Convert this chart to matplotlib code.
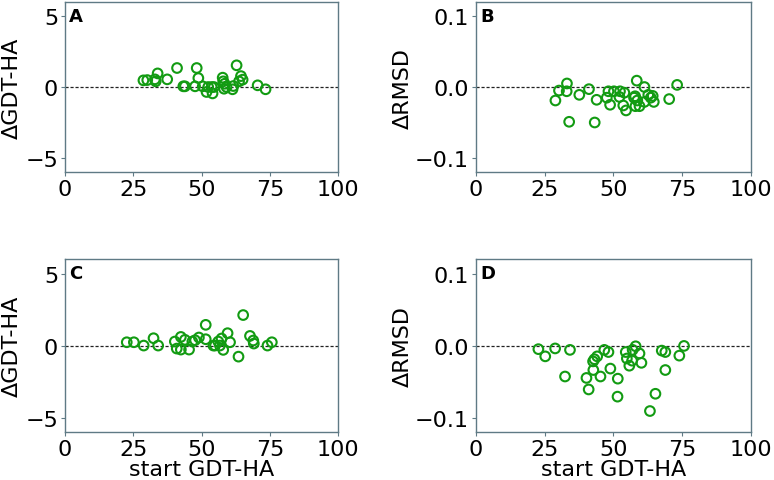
import numpy as np
import matplotlib
matplotlib.use("Agg")
import matplotlib.pyplot as plt

# panel A: start GDT-HA vs delta GDT-HA
a_x = [28.7, 30.1, 32.9, 33.2, 33.9, 37.4, 41.0, 43.3, 43.9, 47.6, 48.2, 48.8,
       50.4, 51.8, 52.4, 53.7, 54.0, 54.5, 57.7, 57.9, 58.2, 58.4, 59.1, 61.3,
       61.6, 62.8, 63.7, 64.4, 65.0, 70.5, 73.4]
a_y = [0.47, 0.49, 0.54, 0.40, 0.96, 0.54, 1.34, 0.05, 0.05, 0.05, 1.34, 0.63,
       0.05, -0.35, 0.0, 0.0, -0.45, 0.0, 0.66, 0.40, -0.12, 0.23, 0.0, -0.16,
       0.07, 1.53, 0.40, 0.77, 0.52, 0.12, -0.16]

# panel B: start GDT-HA vs delta RMSD
b_x = [28.9, 30.2, 33.1, 33.0, 33.9, 37.6, 41.1, 43.2, 43.9, 47.6, 48.2, 48.8,
       50.2, 52.4, 52.2, 54.0, 53.6, 54.6, 57.5, 57.9, 58.0, 58.5, 58.7, 59.5,
       61.3, 61.3, 62.7, 63.6, 64.3, 64.7, 70.3, 73.2]
b_y = [-0.019, -0.005, 0.005, -0.006, -0.049, -0.011, -0.003, -0.050, -0.018,
       -0.015, -0.006, -0.025, -0.006, -0.006, -0.014, -0.008, -0.026, -0.033,
       -0.015, -0.013, -0.027, 0.009, -0.019, -0.027, 0.0, -0.021, -0.011,
       -0.015, -0.0125, -0.021, -0.017, 0.003]

# panel C
c_x = [22.6, 25.2, 28.8, 32.4, 34.1, 40.2, 40.9, 42.4, 42.4, 43.9, 45.4, 46.6,
       47.6, 49.0, 51.5, 51.5, 54.3, 54.9, 56.1, 56.7, 57.3, 57.9, 59.5, 60.4,
       63.5, 65.2, 67.7, 68.9, 69.1, 74.1, 75.7]
c_y = [0.23, 0.23, 0.0, 0.51, 0.0, 0.28, -0.21, 0.60, -0.28, 0.40, -0.28, 0.28,
       0.37, 0.56, 1.44, 0.44, 0.0, 0.0, 0.28, 0.0, 0.49, -0.30, 0.86, 0.23,
       -0.77, 2.12, 0.67, 0.35, 0.14, 0.0, 0.23]

# panel D
d_x = [22.7, 25.2, 28.8, 32.4, 34.2, 40.2, 41.0, 42.6, 42.7, 43.1, 44.1, 45.3,
       46.7, 48.2, 48.9, 51.5, 51.6, 54.5, 54.9, 55.8, 56.8, 57.0, 58.1, 59.5,
       60.2, 63.3, 65.3, 67.6, 68.9, 68.9, 74.0, 75.7]
d_y = [-0.005, -0.015, -0.004, -0.043, -0.006, -0.045, -0.061, -0.022, -0.034,
       -0.019, -0.015, -0.043, -0.006, -0.009, -0.032, -0.071, -0.046, -0.009,
       -0.018, -0.028, -0.021, -0.006, -0.001, -0.011, -0.024, -0.091, -0.067,
       -0.007, -0.009, -0.034, -0.014, -0.0005]

panels = [
    ("A", a_x, a_y, "ΔGDT-HA", (-6, 6), [-5, 0, 5]),
    ("B", b_x, b_y, "ΔRMSD", (-0.12, 0.12), [-0.1, 0.0, 0.1]),
    ("C", c_x, c_y, "ΔGDT-HA", (-6, 6), [-5, 0, 5]),
    ("D", d_x, d_y, "ΔRMSD", (-0.12, 0.12), [-0.1, 0.0, 0.1]),
]

boxes = [
    [0.084, 0.640, 0.353, 0.354],
    [0.615, 0.640, 0.355, 0.354],
    [0.084, 0.100, 0.353, 0.359],
    [0.615, 0.100, 0.355, 0.359],
]

spine_col = "#5f7a85"
fig = plt.figure(figsize=(7.74, 4.81), dpi=100)

for (letter, xs, ys, ylab, ylim, yticks), box in zip(panels, boxes):
    ax = fig.add_axes(box)
    ax.axhline(0, color="#222222", lw=0.9, ls=(0, (2.5, 1.5)), zorder=1)
    ax.scatter(xs, ys, s=48, facecolors="none", edgecolors="#129b12",
               linewidths=1.5, zorder=2)
    ax.set_xlim(0, 100)
    ax.set_ylim(*ylim)
    ax.set_xticks([0, 25, 50, 75, 100])
    ax.set_yticks(yticks)
    if letter in "BD":
        ax.set_yticklabels(["\u22120.1", "0.0", "0.1"])
    ax.tick_params(labelsize=16, length=3, width=0.8, color=spine_col, pad=2)
    for sp in ax.spines.values():
        sp.set_color(spine_col)
        sp.set_linewidth(1.0)
    ax.set_ylabel(ylab, fontsize=16)
    if letter in "AC":
        ax.yaxis.set_label_coords(-0.158, 0.5)
    else:
        ax.yaxis.set_label_coords(-0.229, 0.5)
    if letter in "CD":
        ax.set_xlabel("start GDT-HA", fontsize=16, labelpad=0)
    ax.text(0.015, 0.97, letter, transform=ax.transAxes, fontsize=13,
            fontweight="bold", va="top", ha="left")

fig.savefig("out.png", dpi=100)
